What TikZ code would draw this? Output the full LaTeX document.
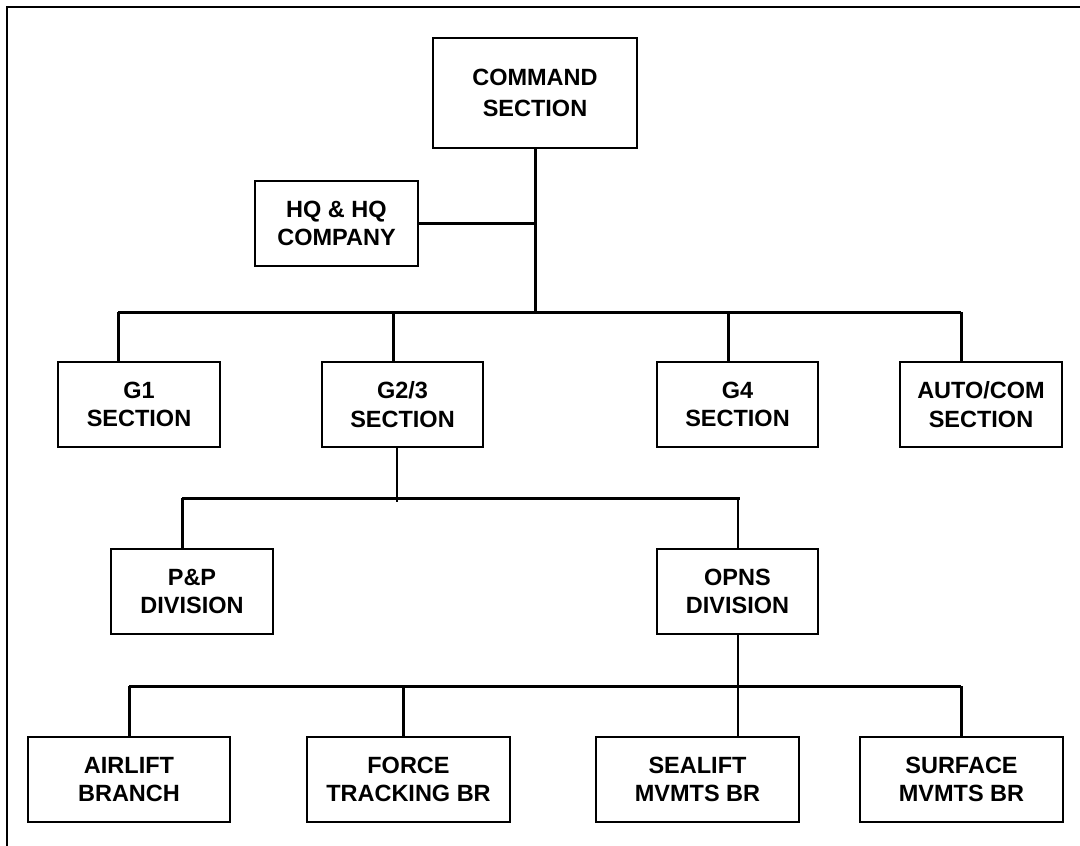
\documentclass[tikz,border=0pt]{standalone}
\usepackage{fontspec}
\setmainfont{Liberation Sans}
\begin{document}
\begin{tikzpicture}[x=1pt,y=-1pt,
  box/.style={draw=black,line width=2pt,align=center,inner sep=0pt,
    font=\fontsize{23.5}{28.5}\selectfont\bfseries,minimum height=85pt},
  bus/.style={line width=3pt},
  thin/.style={line width=2pt}]
\useasboundingbox (0,0) rectangle (1080,846);
\fill[white] (0,0) rectangle (1080,846);
% frame (open at right and bottom)
\coordinate (ftl) at (7,7);
\coordinate (ftr) at (1080,7);
\coordinate (fbl) at (7,846);
\draw[line width=2pt] (fbl) -- (ftl) -- (ftr);
% boxes
\node[box,minimum width=204pt,minimum height=110pt] (cmd) at (535,93) {COMMAND\\[2pt]SECTION};
\node[box,minimum width=163pt] (hq) at (336.5,223.5) {HQ \& HQ\\COMPANY};
\node[box,minimum width=162pt] (g1) at (139,404.5) {G1\\SECTION};
\node[box,minimum width=161pt] (g23) at (402.5,404.5) {G2/3\\SECTION};
\node[box,minimum width=161pt] (g4) at (737.5,404.5) {G4\\SECTION};
\node[box,minimum width=162pt] (auto) at (981,404.5) {AUTO/COM\\SECTION};
\node[box,minimum width=162pt] (pp) at (192,591.5) {P\&P\\DIVISION};
\node[box,minimum width=161pt] (opns) at (737.5,591.5) {OPNS\\DIVISION};
\node[box,minimum width=202pt] (air) at (129,779.5) {AIRLIFT\\BRANCH};
\node[box,minimum width=203pt] (force) at (408.5,779.5) {FORCE\\TRACKING BR};
\node[box,minimum width=203pt] (sea) at (697.5,779.5) {SEALIFT\\MVMTS BR};
\node[box,minimum width=203pt] (surf) at (961.5,779.5) {SURFACE\\MVMTS BR};
% level 1 bus
\coordinate (b1c) at (535,312);
\coordinate (b1w) at (118,312);
\coordinate (b1a) at (393,312);
\coordinate (b1b) at (728,312);
\coordinate (b1e) at (961,312);
\draw[bus] (cmd.south) -- (b1c);
\draw[bus] (hq.east) -- (hq.east -| cmd.south);
\draw[bus] (b1w) -- (b1e);
\draw[bus] (b1w) -- (b1w |- g1.north);
\draw[bus] (b1a) -- (b1a |- g23.north);
\draw[bus] (b1b) -- (b1b |- g4.north);
\draw[bus] (b1e) -- (b1e |- auto.north);
% level 2 bus
\coordinate (g23s) at (397,447);
\coordinate (g23e) at (397,502);
\coordinate (b2w) at (182,498);
\coordinate (b2e) at (740,498);
\coordinate (b2o) at (738,498);
\draw[thin] (g23s) -- (g23e);
\draw[bus] (b2w) -- (b2e);
\draw[bus] (b2w) -- (b2w |- pp.north);
\draw[thin] (b2o) -- (b2o |- opns.north);
% level 3 bus
\coordinate (b3w) at (129,686);
\coordinate (b3e) at (961,686);
\coordinate (b3f) at (403,686);
\coordinate (os) at (738,634);
\draw[thin] (os) -- (os |- sea.north);
\draw[bus] (b3w) -- (b3e);
\draw[bus] (b3w) -- (b3w |- air.north);
\draw[bus] (b3f) -- (b3f |- force.north);
\draw[bus] (b3e) -- (b3e |- surf.north);
\end{tikzpicture}
\end{document}
